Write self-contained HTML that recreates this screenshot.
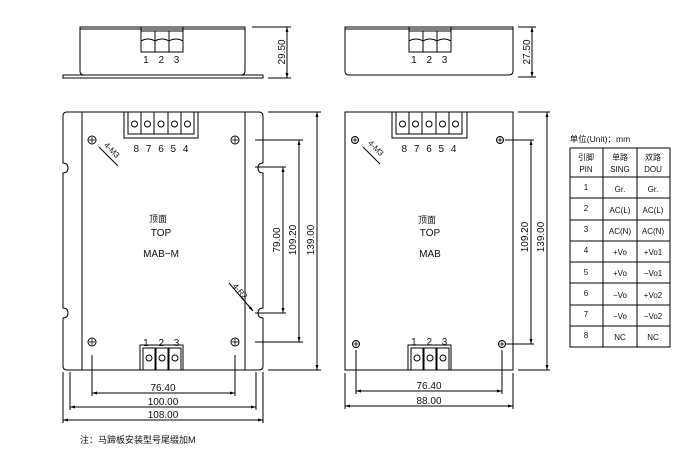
<!DOCTYPE html>
<html><head><meta charset="utf-8"><style>
html,body{margin:0;padding:0;background:#fff;}
svg text{font-family:"Liberation Sans","Noto Sans CJK SC",sans-serif;fill:#111;}
</style></head><body>
<svg width="698" height="467" viewBox="0 0 698 467" xmlns="http://www.w3.org/2000/svg">
<defs>
<marker id="a" viewBox="0 0 10 10" refX="10" refY="5" markerWidth="5" markerHeight="5" orient="auto-start-reverse"><path d="M0,2 L10,5 L0,8z" fill="#000"/></marker>
</defs>
<g fill="none" stroke="#000" stroke-width="1">
<path d="M80,27 H245 V71 Q245,75 241,75 H84 Q80,75 80,71 Z"/>
<line x1="80" y1="29" x2="245" y2="29"/>
<rect x="63" y="75" width="200" height="3"/>
<rect x="141" y="27" width="42" height="25"/>
<line x1="141" y1="31" x2="183" y2="31"/><line x1="155" y1="31" x2="155" y2="52"/><line x1="169" y1="31" x2="169" y2="52"/>
<path d="M141,41 Q148,37 155,41 Q162,37 169,41 Q176,37 183,41"/>
<line x1="252" y1="27" x2="291" y2="27"/><line x1="268" y1="78" x2="291" y2="78"/>
<line x1="287" y1="27" x2="287" y2="78" marker-start="url(#a)" marker-end="url(#a)"/>
<path d="M345,27 H513 V71 Q513,75 509,75 H349 Q345,75 345,71 Z"/>
<line x1="345" y1="29" x2="513" y2="29"/>
<rect x="409" y="27" width="42" height="25"/>
<line x1="409" y1="31" x2="451" y2="31"/><line x1="423" y1="31" x2="423" y2="52"/><line x1="437" y1="31" x2="437" y2="52"/>
<path d="M409,41 Q416,37 423,41 Q430,37 437,41 Q444,37 451,41"/>
<line x1="518" y1="27" x2="536" y2="27"/><line x1="518" y1="77" x2="536" y2="77"/>
<line x1="532" y1="27" x2="532" y2="77" marker-start="url(#a)" marker-end="url(#a)"/>
<path d="M67,112 H259 Q263,112 263,116 V163 Q258,163 258,168 Q258,173 263,173 V308 Q258,308 258,313 Q258,318 263,318 V366 Q263,370 259,370 H67 Q63,370 63,366 V318 Q68,318 68,313 Q68,308 63,308 V173 Q68,173 68,168 Q68,163 63,163 V116 Q63,112 67,112 Z"/>
<line x1="82" y1="112" x2="82" y2="370"/><line x1="245" y1="112" x2="245" y2="370"/>
<rect x="124" y="112" width="74" height="26"/>
<g><rect x="128" y="112" width="13" height="22"/><rect x="141" y="112" width="13" height="22"/><rect x="154" y="112" width="14" height="22"/><rect x="168" y="112" width="13" height="22"/><rect x="181" y="112" width="13" height="22"/></g>
<circle cx="134.5" cy="124" r="3"/><circle cx="147.5" cy="124" r="3"/><circle cx="161" cy="124" r="3"/><circle cx="174.5" cy="124" r="3"/><circle cx="187.5" cy="124" r="3"/>
<rect x="140" y="345" width="43" height="25"/>
<rect x="143" y="348" width="12" height="22"/><rect x="156" y="348" width="12" height="22"/><rect x="169" y="348" width="12" height="22"/>
<circle cx="149" cy="358" r="3"/><circle cx="162" cy="358" r="3"/><circle cx="175" cy="358" r="3"/>
<circle cx="92" cy="140" r="4"/><circle cx="235" cy="140" r="4"/><circle cx="92" cy="342" r="4"/><circle cx="235" cy="342" r="4"/>
<line x1="99" y1="147" x2="118" y2="166"/>
<line x1="229" y1="283" x2="253" y2="311" marker-end="url(#a)"/>
<line x1="255" y1="313" x2="286" y2="313"/><line x1="283" y1="167" x2="283" y2="313" marker-start="url(#a)" marker-end="url(#a)"/><line x1="255" y1="167" x2="286" y2="167"/>
<line x1="255" y1="140" x2="303" y2="140"/><line x1="255" y1="342" x2="303" y2="342"/><line x1="299" y1="140" x2="299" y2="342" marker-start="url(#a)" marker-end="url(#a)"/>
<line x1="268" y1="112" x2="321" y2="112"/><line x1="268" y1="370" x2="321" y2="370"/><line x1="317" y1="112" x2="317" y2="370" marker-start="url(#a)" marker-end="url(#a)"/>
<line x1="92" y1="355" x2="92" y2="396"/><line x1="235" y1="355" x2="235" y2="396"/><line x1="92" y1="393" x2="235" y2="393" marker-start="url(#a)" marker-end="url(#a)"/>
<line x1="70" y1="372" x2="70" y2="410"/><line x1="256" y1="372" x2="256" y2="410"/><line x1="70" y1="407" x2="256" y2="407" marker-start="url(#a)" marker-end="url(#a)"/>
<line x1="63" y1="372" x2="63" y2="423"/><line x1="263" y1="372" x2="263" y2="423"/><line x1="63" y1="420" x2="263" y2="420" marker-start="url(#a)" marker-end="url(#a)"/>
<rect x="345" y="112" width="168" height="258"/>
<rect x="392" y="112" width="75" height="26"/>
<rect x="396" y="112" width="13" height="22"/><rect x="409" y="112" width="13" height="22"/><rect x="422" y="112" width="14" height="22"/><rect x="436" y="112" width="13" height="22"/><rect x="449" y="112" width="13" height="22"/>
<circle cx="402.5" cy="124" r="3"/><circle cx="415.5" cy="124" r="3"/><circle cx="429" cy="124" r="3"/><circle cx="442.5" cy="124" r="3"/><circle cx="455.5" cy="124" r="3"/>
<rect x="408" y="345" width="43" height="25"/>
<rect x="411" y="348" width="12" height="22"/><rect x="424" y="348" width="12" height="22"/><rect x="437" y="348" width="12" height="22"/>
<circle cx="417" cy="358" r="3"/><circle cx="430" cy="358" r="3"/><circle cx="443" cy="358" r="3"/>
<circle cx="355" cy="140" r="3.5"/><circle cx="500" cy="140" r="3.5"/><circle cx="356" cy="344" r="3.5"/><circle cx="502" cy="344" r="3.5"/>
<line x1="363" y1="147" x2="380" y2="164"/>
<line x1="505" y1="140" x2="534" y2="140"/><line x1="505" y1="344" x2="534" y2="344"/><line x1="531" y1="140" x2="531" y2="344" marker-start="url(#a)" marker-end="url(#a)"/>
<line x1="518" y1="112" x2="550" y2="112"/><line x1="518" y1="370" x2="550" y2="370"/><line x1="547" y1="112" x2="547" y2="370" marker-start="url(#a)" marker-end="url(#a)"/>
<line x1="356" y1="350" x2="356" y2="394"/><line x1="502" y1="350" x2="502" y2="394"/><line x1="356" y1="391" x2="502" y2="391" marker-start="url(#a)" marker-end="url(#a)"/>
<line x1="345" y1="373" x2="345" y2="409"/><line x1="513" y1="373" x2="513" y2="409"/><line x1="345" y1="406" x2="513" y2="406" marker-start="url(#a)" marker-end="url(#a)"/>
<rect x="570" y="148" width="100" height="199"/>
<line x1="603" y1="148" x2="603" y2="347"/><line x1="637" y1="148" x2="637" y2="347"/>
<line x1="570" y1="177" x2="670" y2="177"/><line x1="570" y1="198" x2="670" y2="198"/><line x1="570" y1="220" x2="670" y2="220"/><line x1="570" y1="241" x2="670" y2="241"/><line x1="570" y1="262" x2="670" y2="262"/><line x1="570" y1="283" x2="670" y2="283"/><line x1="570" y1="305" x2="670" y2="305"/><line x1="570" y1="326" x2="670" y2="326"/>
</g>
<g stroke="#000" stroke-width="0.8">
<line x1="89" y1="140" x2="95" y2="140"/><line x1="92" y1="137" x2="92" y2="143"/>
<line x1="232" y1="140" x2="238" y2="140"/><line x1="235" y1="137" x2="235" y2="143"/>
<line x1="89" y1="342" x2="95" y2="342"/><line x1="92" y1="339" x2="92" y2="345"/>
<line x1="232" y1="342" x2="238" y2="342"/><line x1="235" y1="339" x2="235" y2="345"/>
<line x1="352.5" y1="140" x2="357.5" y2="140"/><line x1="355" y1="137.5" x2="355" y2="142.5"/>
<line x1="497.5" y1="140" x2="502.5" y2="140"/><line x1="500" y1="137.5" x2="500" y2="142.5"/>
<line x1="353.5" y1="344" x2="358.5" y2="344"/><line x1="356" y1="341.5" x2="356" y2="346.5"/>
<line x1="499.5" y1="344" x2="504.5" y2="344"/><line x1="502" y1="341.5" x2="502" y2="346.5"/>
</g>
<g font-size="10" text-anchor="middle">
<text x="163" y="63" letter-spacing="3.5">1 2 3</text><text x="431" y="63" letter-spacing="3.5">1 2 3</text>
<text x="162" y="152" letter-spacing="2">8 7 6 5 4</text><text x="430" y="152" letter-spacing="2">8 7 6 5 4</text>
<text x="163" y="346" letter-spacing="3.5">1 2 3</text><text x="431" y="345" letter-spacing="3.5">1 2 3</text>
<text x="158" y="222" font-size="9">顶面</text><text x="161" y="236">TOP</text><text x="161" y="257">MAB−M</text>
<text x="427" y="223" font-size="9">顶面</text><text x="430" y="236">TOP</text><text x="430" y="257">MAB</text>
<text x="163" y="391">76.40</text><text x="163" y="405">100.00</text><text x="163" y="418">108.00</text>
<text x="429" y="389">76.40</text><text x="429" y="404">88.00</text>
<text transform="translate(285,52) rotate(-90)">29.50</text>
<text transform="translate(530,52) rotate(-90)">27.50</text>
<text transform="translate(280,240) rotate(-90)">79.00</text>
<text transform="translate(296,240) rotate(-90)">109.20</text>
<text transform="translate(314,240) rotate(-90)">139.00</text>
<text transform="translate(528,237) rotate(-90)">109.20</text>
<text transform="translate(544,237) rotate(-90)">139.00</text>
<text transform="translate(110,152) rotate(45)" font-size="8">4-M3</text>
<text transform="translate(374,150) rotate(45)" font-size="8">4-M3</text>
<text transform="translate(238,293) rotate(48)" font-size="8">4-R2</text>
</g>
<g font-size="8" text-anchor="middle">
<text x="600" y="142" font-size="8.5">单位(Unit)：mm</text>
<text x="586" y="160">引脚</text><text x="586" y="172">PIN</text>
<text x="620" y="160">单路</text><text x="620" y="172">SING</text>
<text x="653" y="160">双路</text><text x="653" y="172">DOU</text>
<text x="586" y="190">1</text><text x="620" y="192">Gr.</text><text x="653" y="192">Gr.</text>
<text x="586" y="211">2</text><text x="620" y="213">AC(L)</text><text x="653" y="213">AC(L)</text>
<text x="586" y="232">3</text><text x="620" y="234">AC(N)</text><text x="653" y="234">AC(N)</text>
<text x="586" y="253">4</text><text x="620" y="255">+Vo</text><text x="653" y="255">+Vo1</text>
<text x="586" y="275">5</text><text x="620" y="276">+Vo</text><text x="653" y="276">−Vo1</text>
<text x="586" y="296">6</text><text x="620" y="298">−Vo</text><text x="653" y="298">+Vo2</text>
<text x="586" y="317">7</text><text x="620" y="319">−Vo</text><text x="653" y="319">−Vo2</text>
<text x="586" y="338">8</text><text x="620" y="340">NC</text><text x="653" y="340">NC</text>
</g>
<text x="80" y="443" font-size="9">注：马蹄板安装型号尾缀加M</text>
</svg>
</body></html>
